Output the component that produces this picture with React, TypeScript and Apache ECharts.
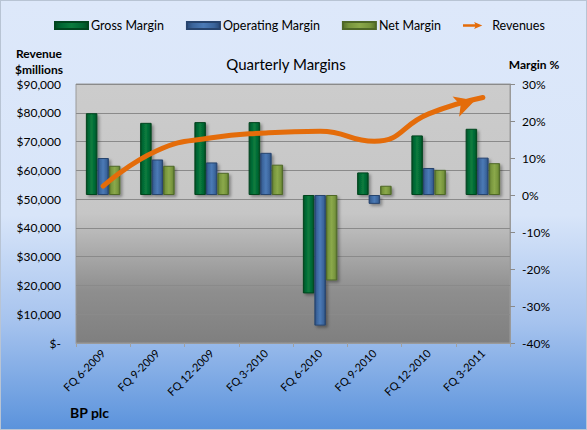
import React, { useEffect, useRef } from "react";
import * as echarts from "echarts";

const categories = ["FQ 6-2009", "FQ 9-2009", "FQ 12-2009", "FQ 3-2010", "FQ 6-2010", "FQ 9-2010", "FQ 12-2010", "FQ 3-2011"];
const grossMargin = [22.1, 19.5, 19.7, 19.7, -26.6, 6.1, 16.1, 17.9];
const operatingMargin = [10.0, 9.6, 8.8, 11.4, -35.3, -2.4, 7.3, 10.1];
const netMargin = [7.9, 7.9, 6.0, 8.2, -23.1, 2.5, 6.8, 8.6];
const revenues = [54500, 66900, 71300, 73000, 73600, 70100, 79600, 85300];

const FONT = "Lato";

function barGrad(edge: string, mid: string, center: string) {
  return new echarts.graphic.LinearGradient(0, 0, 1, 0, [
    { offset: 0, color: edge },
    { offset: 0.18, color: mid },
    { offset: 0.5, color: center },
    { offset: 0.82, color: mid },
    { offset: 1, color: edge },
  ]);
}

export default function App() {
  const ref = useRef<HTMLDivElement>(null);
  useEffect(() => {
    if (!ref.current) return;
    const chart = echarts.init(ref.current, undefined, { renderer: "svg" });
    const barCommon = {
      type: "bar" as const,
      yAxisIndex: 1,
      barWidth: 11.5,
      barGap: "0%",
    };
    const shadow = {
      shadowColor: "rgba(0,0,0,0.35)",
      shadowBlur: 3,
      shadowOffsetX: 2,
      shadowOffsetY: 2,
    };
    const revData = revenues.map((v, i) =>
      i === revenues.length - 1
        ? { value: v, symbol: "arrow", symbolSize: [16, 20], symbolRotate: -72, symbolOffset: [-8, 3] }
        : { value: v, symbol: "none" }
    );
    chart.setOption({
      animation: false,
      backgroundColor: new echarts.graphic.LinearGradient(0, 0, 0, 1, [
        { offset: 0, color: "#dde8fa" },
        { offset: 0.5, color: "#d8e5f9" },
        { offset: 0.75, color: "#a6c3ee" },
        { offset: 1, color: "#5b93dc" },
      ]),
      textStyle: { fontFamily: FONT },
      legend: {
        left: 53,
        top: 18,
        padding: 0,
        itemWidth: 33,
        itemHeight: 7,
        itemGap: 22,
        textStyle: { fontSize: 12.5, color: "#000", fontFamily: FONT, padding: [0, 0, 0, -2] },
        data: [
          { name: "Gross Margin", icon: "rect" },
          { name: "Operating Margin", icon: "rect" },
          { name: "Net Margin", icon: "rect" },
          {
            name: "Revenues",
            icon: "path://M0,4 L21,4 L19,0 L33,6 L19,12 L21,8 L0,8 Z",
            itemStyle: { color: "#e46c0a" },
          },
        ],
      },
      grid: {
        left: 75,
        right: 76,
        top: 83,
        bottom: 86,
        show: true,
        borderWidth: 1,
        borderColor: "#9a9a9a",
        backgroundColor: new echarts.graphic.LinearGradient(0, 0, 0, 1, [
          { offset: 0, color: "#cccccc" },
          { offset: 0.5, color: "#c6c6c6" },
          { offset: 0.8, color: "#8e8e8e" },
          { offset: 1, color: "#7f7f7f" },
        ]),
      },
      xAxis: {
        type: "category",
        data: categories,
        axisLine: { lineStyle: { color: "#9a9a9a" } },
        axisTick: { show: true, length: 4, lineStyle: { color: "#a0a0a0" } },
        axisLabel: { rotate: 45, fontSize: 11, color: "#000", margin: 8, fontFamily: FONT },
      },
      yAxis: [
        {
          type: "value",
          min: 0,
          max: 90000,
          interval: 10000,
          axisLine: { show: false },
          axisTick: { show: false },
          axisLabel: {
            fontSize: 12,
            color: "#000",
            margin: 15,
            fontFamily: FONT,
            formatter: (v: number) => (v === 0 ? "$-" : "$" + v.toLocaleString("en-US")),
          },
          splitLine: { lineStyle: { color: "#8a8a8a", width: 1 } },
        },
        {
          type: "value",
          position: "right",
          min: -40,
          max: 30,
          interval: 10,
          axisLine: { show: true, lineStyle: { color: "#9a9a9a" } },
          axisTick: { show: true, length: 5, lineStyle: { color: "#8a8a8a" } },
          axisLabel: { fontSize: 12, color: "#000", margin: 12, fontFamily: FONT, formatter: (v: number) => v + "%" },
          splitLine: { show: false },
        },
      ],
      series: [
        {
          ...barCommon,
          name: "Gross Margin",
          data: grossMargin,
          itemStyle: { color: barGrad("#004a22", "#006633", "#0b7c3e"), borderColor: "#00451f", borderWidth: 1, ...shadow },
        },
        {
          ...barCommon,
          name: "Operating Margin",
          data: operatingMargin,
          itemStyle: { color: barGrad("#2a4a78", "#3b659c", "#4b7ab6"), borderColor: "#27446e", borderWidth: 1, ...shadow },
        },
        {
          ...barCommon,
          name: "Net Margin",
          data: netMargin,
          itemStyle: { color: barGrad("#55702a", "#77953d", "#8ba94b"), borderColor: "#4f6828", borderWidth: 1, ...shadow },
        },
        {
          type: "line",
          name: "Revenues",
          yAxisIndex: 0,
          data: revData,
          smooth: 0.5,
          showSymbol: true,
          symbol: "none",
          lineStyle: { color: "#e46c0a", width: 5, cap: "round" },
          itemStyle: { color: "#e46c0a" },
          z: 5,
        },
      ],
      graphic: [
        {
          type: "text",
          style: { text: "Quarterly Margins", x: 285, y: 63, fontSize: 15, fontFamily: FONT, fill: "#000", textAlign: "center", textVerticalAlign: "middle" },
        },
        {
          type: "text",
          style: { text: "Revenue", x: 38, y: 52, fontSize: 12, fontWeight: "bold", fontFamily: FONT, fill: "#000", textAlign: "center", textVerticalAlign: "middle" },
        },
        {
          type: "text",
          style: { text: "$millions", x: 38, y: 68, fontSize: 12, fontWeight: "bold", fontFamily: FONT, fill: "#000", textAlign: "center", textVerticalAlign: "middle" },
        },
        {
          type: "text",
          style: { text: "Margin %", x: 533, y: 63, fontSize: 12, fontWeight: "bold", fontFamily: FONT, fill: "#000", textAlign: "center", textVerticalAlign: "middle" },
        },
        {
          type: "text",
          style: { text: "BP plc", x: 69, y: 411, fontSize: 14, fontWeight: "bold", fontFamily: FONT, fill: "#000", textAlign: "left", textVerticalAlign: "middle" },
        },
      ],
    });
    return () => chart.dispose();
  }, []);
  return (
    <div
      ref={ref}
      style={{ position: "fixed", left: 0, top: 0, width: 587, height: 430, boxSizing: "border-box", border: "1px solid #b8c4d4" }}
    />
  );
}
